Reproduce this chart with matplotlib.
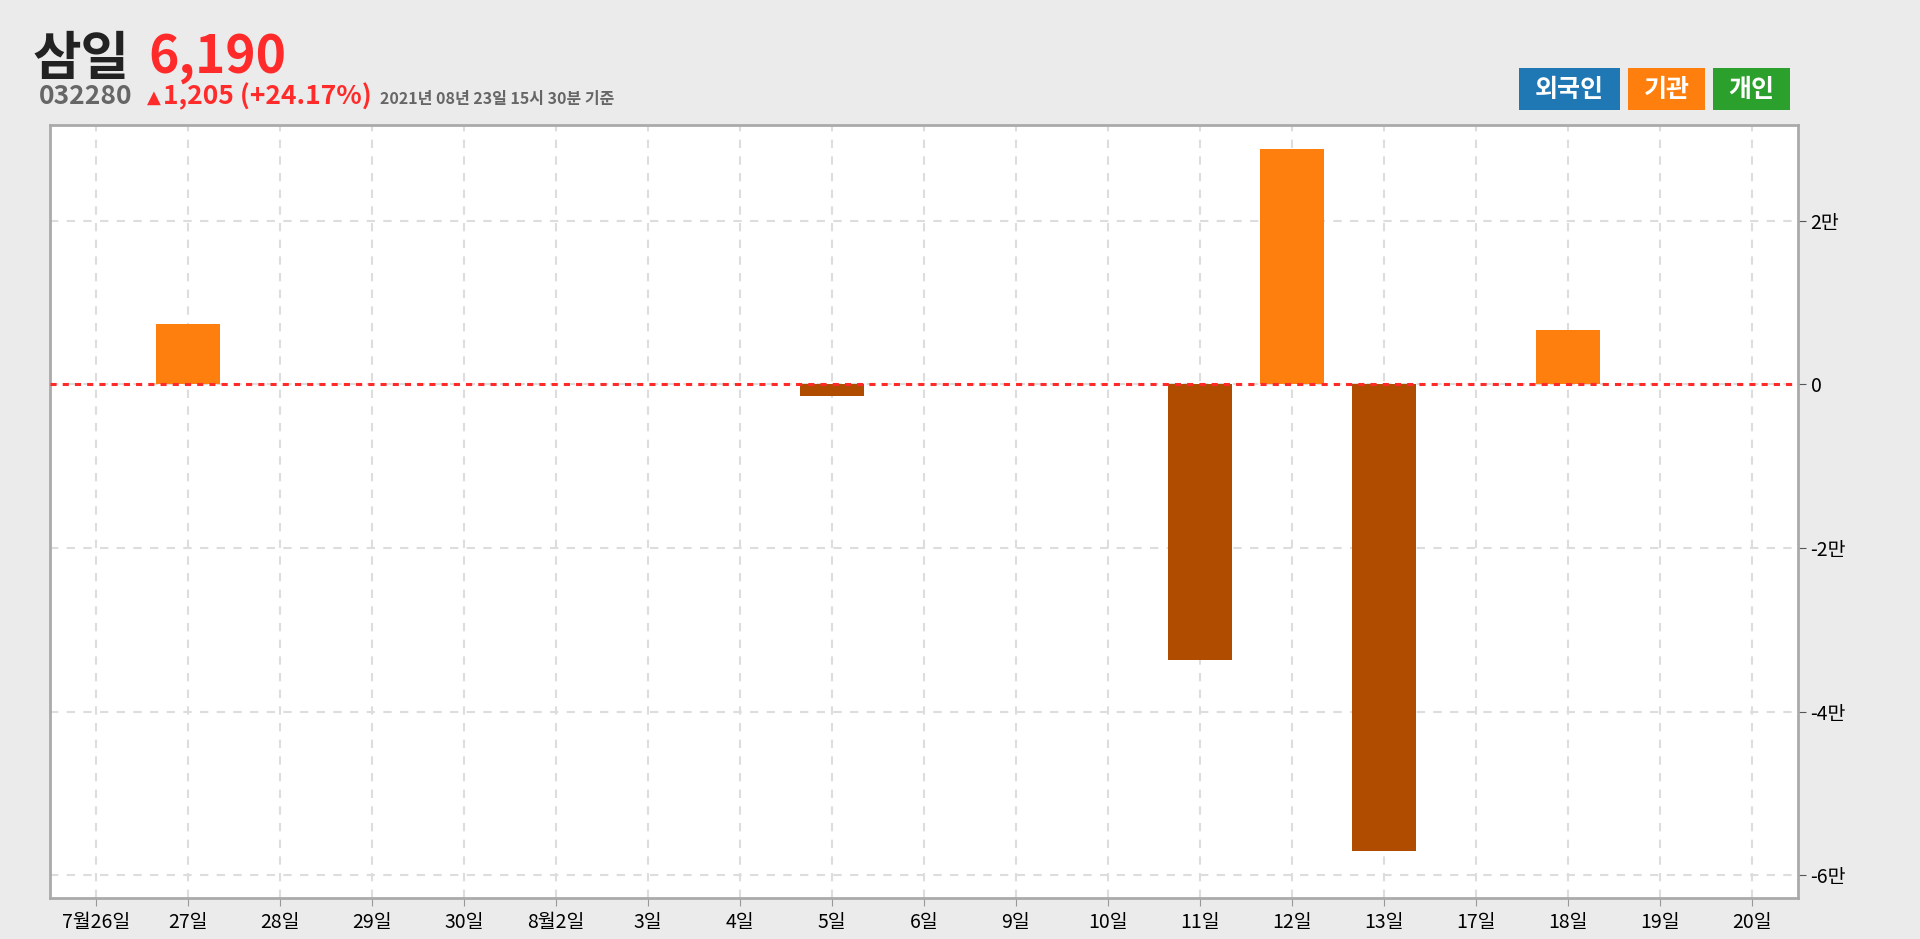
import numpy as np
import matplotlib.pyplot as plt
from matplotlib.ticker import FuncFormatter

plt.rcParams['font.family'] = ['Noto Sans CJK KR', 'DejaVu Sans']

# data
dates = ['7월26일', '27일', '28일', '29일', '30일', '8월2일', '3일', '4일', '5일', '6일',
         '9일', '10일', '11일', '12일', '13일', '17일', '18일', '19일', '20일']
inst = [0, 7400, 0, 0, 0, 0, 0, 0, -1350, 0,
        0, 0, -33700, 28850, -57100, 0, 6650, 0, 0]

name = '삼일'
code = '032280'
price = '6,190'
change = '1,205 (+24.17%)'
stamp = '2021년 08년 23일 15시 30분 기준'
legend_labels = ['외국인', '기관', '개인']
legend_colors = ['#1f77b4', '#ff7f0e', '#2ca02c']

bg = '#ebebeb'
pos_color = '#ff7f0e'
neg_color = '#b04c00'
red = '#ff2a2a'

W, H = 1920, 939
fig = plt.figure(figsize=(19.2, 9.39), dpi=100, facecolor=bg)
ax = fig.add_axes([50 / W, 1 - 898 / H, (1798 - 50) / W, (898 - 125) / H])
ax.set_facecolor('white')

x = np.arange(len(dates))
vals = np.array(inst)
colors = [pos_color if v >= 0 else neg_color for v in vals]
ax.bar(x, vals, width=0.7, color=colors, zorder=3)

ax.axhline(0, color=red, linestyle=(0, (2, 2)), linewidth=2.2, zorder=4)

ax.set_xlim(-0.5, len(dates) - 0.5)
ax.set_ylim(vals.min() * 1.1, vals.max() * 1.1)

ax.set_xticks(x)
ax.set_xticklabels(dates, fontsize=14)
ax.set_yticks([20000, 0, -20000, -40000, -60000])


def man(v, pos):
    if v == 0:
        return '0'
    return '%d만' % (v / 10000)


ax.yaxis.set_major_formatter(FuncFormatter(man))
ax.yaxis.tick_right()
ax.tick_params(axis='y', labelsize=14, length=6, color='#555555', pad=3)
ax.tick_params(axis='x', length=6, color='#999999', pad=4)

ax.grid(True, color='#dddddd', linestyle=(0, (4, 4)), linewidth=1.5, zorder=0)

for s in ['left', 'top', 'bottom', 'right']:
    ax.spines[s].set_color('#aaaaaa')
    ax.spines[s].set_linewidth(2)

# header
fig.text(33 / W, 1 - 75 / H, name, fontsize=38, fontweight='bold', color='#222222')
fig.text(148 / W, 1 - 73 / H, price, fontsize=37, fontweight='bold', color=red)
fig.text(39 / W, 1 - 104 / H, code, fontsize=19, fontweight='bold', color='#666666')
fig.text(147 / W, 1 - 103 / H, '▲', fontsize=13, color=red, family=['DejaVu Sans'])
fig.text(163 / W, 1 - 104 / H, change, fontsize=19, fontweight='bold', color=red)
fig.text(380 / W, 1 - 104 / H, stamp, fontsize=11.5, fontweight='bold', color='#666666')

# legend boxes
box_x = [(1519, 1620), (1628, 1705), (1713, 1790)]
for (x0, x1), lab, col in zip(box_x, legend_labels, legend_colors):
    fig.patches.append(plt.Rectangle((x0 / W, 1 - 110 / H), (x1 - x0) / W, 42 / H,
                                     transform=fig.transFigure, facecolor=col, edgecolor='none'))
    fig.text((x0 + x1) / 2 / W, 1 - 90 / H, lab, fontsize=18, fontweight='bold',
             color='white', ha='center', va='center')

fig.savefig('out.png', dpi=100, facecolor=bg)
